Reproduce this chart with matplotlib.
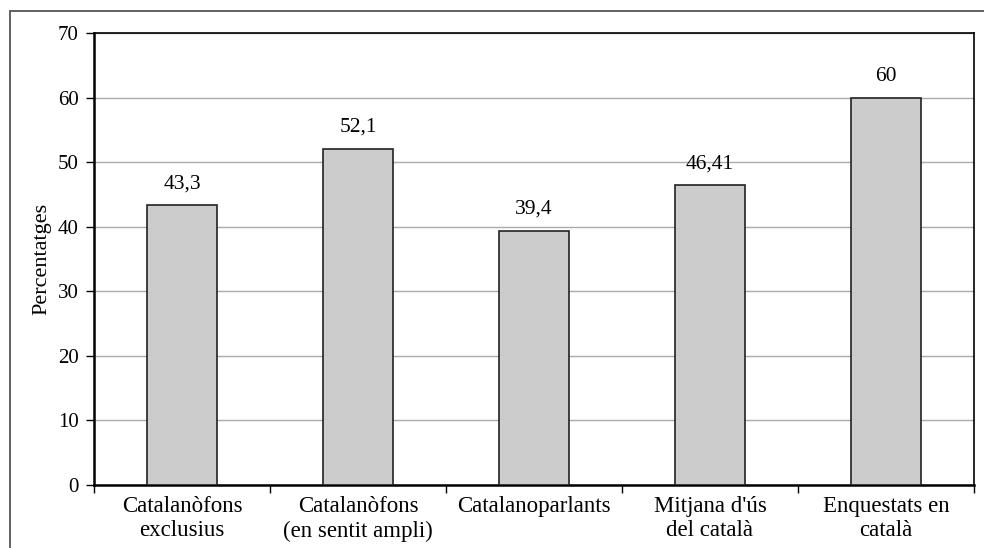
import numpy as np
import matplotlib.pyplot as plt
from matplotlib.patches import Rectangle

categorias = ["Catalanòfons\nexclusius", "Catalanòfons\n(en sentit ampli)",
              "Catalanoparlants", "Mitjana d'ús\ndel català", "Enquestats en\ncatalà"]
valores = [43.3, 52.1, 39.4, 46.41, 60]
etiquetas = ["43,3", "52,1", "39,4", "46,41", "60"]
yticks = [0, 10, 20, 30, 40, 50, 60, 70]

plt.rcParams['font.family'] = ['Liberation Serif', 'DejaVu Serif']

fig = plt.figure(figsize=(9.84, 5.48), dpi=100)
ax = fig.add_axes([94/984, 1 - 485/548, 880/984, 452/548])

# marco exterior de la figura
fig.patches.append(Rectangle((10/984, -0.1), 1.2, 1 - 11/548 + 0.1,
                             transform=fig.transFigure, fill=False,
                             edgecolor='#555555', lw=1.3))

x = np.arange(len(valores))
ax.bar(x, valores, width=0.4, color='#cccccc', edgecolor='#222222', lw=1.2, zorder=3)
for xi, v, t in zip(x, valores, etiquetas):
    ax.text(xi, v + 2.6, t, ha='center', va='baseline', fontsize=15.5)

ax.set_xlim(-0.5, len(valores) - 0.5)
ax.set_ylim(0, 70)
ax.set_yticks(yticks)
ax.tick_params(axis='y', labelsize=15, length=6, width=1, direction='out', pad=5)
ax.yaxis.grid(True, color='#aaaaaa', lw=1)
ax.set_axisbelow(True)

# ticks del eje x entre categorias
ax.set_xticks(np.arange(-0.5, len(valores)), minor=False)
ax.set_xticklabels([''] * (len(valores) + 1))
ax.set_xticks(x, minor=True)
ax.set_xticklabels(categorias, minor=True, fontsize=16.5, linespacing=1.2)
ax.tick_params(axis='x', which='minor', length=0, pad=8)
ax.tick_params(axis='x', which='major', length=6, width=1)

for s in ['left', 'bottom']:
    ax.spines[s].set_linewidth(1.8)
for s in ['top', 'right']:
    ax.spines[s].set_linewidth(1.2)

ax.set_ylabel("Percentatges", fontsize=16, labelpad=5)

fig.savefig("out.png", dpi=100)
